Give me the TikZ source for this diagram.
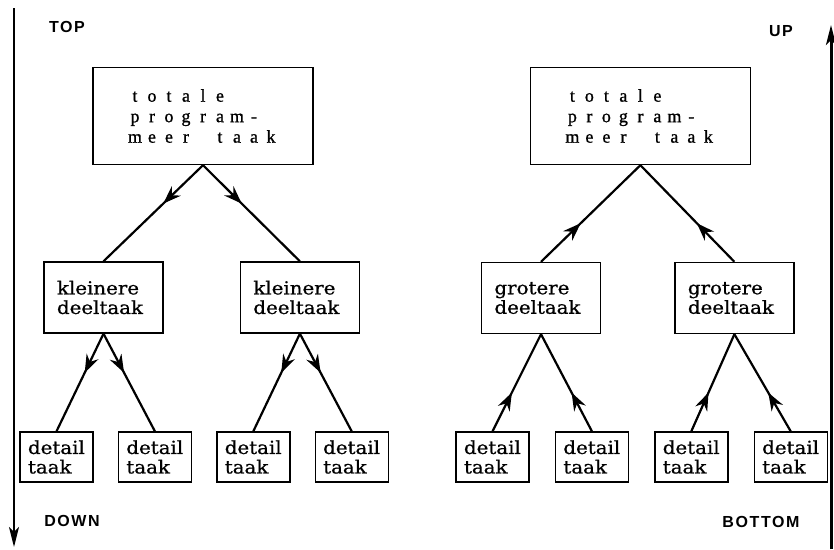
\documentclass[tikz,border=0pt]{standalone}
\usepackage{fontspec}
\usepackage{tikz}
\usetikzlibrary{arrows.meta,positioning,decorations.markings}
\newfontfamily\boxfont{DejaVu Serif}[FakeStretch=1.1,FakeBold=0.8]
\newfontfamily\wideserif{Liberation Serif}[FakeBold=1]
\newfontfamily\axisfont{Liberation Sans}[LetterSpace=10]
% one letter per fixed cell, typewriter style
\newcommand\typeline[1]{\foreach \ch in {#1}{\makebox[17pt]{\ch}}}

\begin{document}
\begin{tikzpicture}[
  x=1pt,y=-1pt,
  font=\boxfont\fontsize{18}{19.5}\selectfont,
  whole/.style={draw,line width=1.4pt,minimum width=220pt,minimum height=97pt,
                align=left,font=\wideserif\fontsize{18}{20.5}\selectfont},
  part/.style={draw,line width=1.4pt,text width=93pt,inner xsep=13pt,
               minimum height=71pt,align=left},
  leaf/.style={draw,line width=1.4pt,text width=57pt,inner xsep=8pt,
               minimum height=50pt,align=left},
  side/.style={font=\axisfont\bfseries\fontsize{16}{19}\selectfont},
  axis/.style={line width=2pt,-{Stealth[length=20pt,width=10pt,inset=5pt]}},
  flow/.style={line width=2.2pt,postaction={decorate},decoration={markings,
     mark=at position 0.4 with {\arrow{Stealth[length=18pt,width=13pt,inset=6pt]}}}}
]
\useasboundingbox (0,0) rectangle (834,549);

% axes
\coordinate (ltop) at (14,8);
\coordinate (lbot) at (14,547);
\coordinate (rbot) at (831,549);
\coordinate (rtop) at (831,25);
\draw[axis] (ltop) -- (lbot);
\draw[axis,line width=3pt] (rbot) -- (rtop);
\node[side] (top) at (67,27) {TOP};
\node[side] (down) at (72,521) {DOWN};
\node[side] (up) at (781,31) {UP};
\node[side] (bottom) at (761,522) {BOTTOM};

% top-down
\node[whole] (tl) at (203,116)
  {\typeline{t,o,t,a,l,e}\\\typeline{p,r,o,g,r,a,m,-}\\\typeline{m,e,e,r,{},t,a,a,k}};
\node[part] (k1) at (103.5,297.5) {kleinere\\deeltaak};
\node[part,right=76pt of k1] (k2) {kleinere\\deeltaak};
\node[leaf] (d1) at (56.5,457) {detail\\taak};
\node[leaf,right=24pt of d1] (d2) {detail\\taak};
\node[leaf,right=24pt of d2] (d3) {detail\\taak};
\node[leaf,right=24pt of d3] (d4) {detail\\taak};

\draw[flow] (tl.south) -- (k1.north);
\draw[flow] (tl.south) -- (k2.north);
\draw[flow] (k1.south) -- (d1.north);
\draw[flow] (k1.south) -- (d2.north);
\draw[flow] (k2.south) -- (d3.north);
\draw[flow] (k2.south) -- (d4.north);

% bottom-up
\node[whole,right=216pt of tl] (tr)
  {\typeline{t,o,t,a,l,e}\\\typeline{p,r,o,g,r,a,m,-}\\\typeline{m,e,e,r,{},t,a,a,k}};
\node[part] (g1) at (541,298) {grotere\\deeltaak};
\node[part,right=73pt of g1] (g2) {grotere\\deeltaak};
\node[leaf] (d5) at (492.5,457) {detail\\taak};
\node[leaf,right=25pt of d5] (d6) {detail\\taak};
\node[leaf,right=25pt of d6] (d7) {detail\\taak};
\node[leaf,right=25pt of d7] (d8) {detail\\taak};

\draw[flow] (g1.north) -- (tr.south);
\draw[flow] (g2.north) -- (tr.south);
\draw[flow] (d5.north) -- (g1.south);
\draw[flow] (d6.north) -- (g1.south);
\draw[flow] (d7.north) -- (g2.south);
\draw[flow] (d8.north) -- (g2.south);
\end{tikzpicture}
\end{document}
